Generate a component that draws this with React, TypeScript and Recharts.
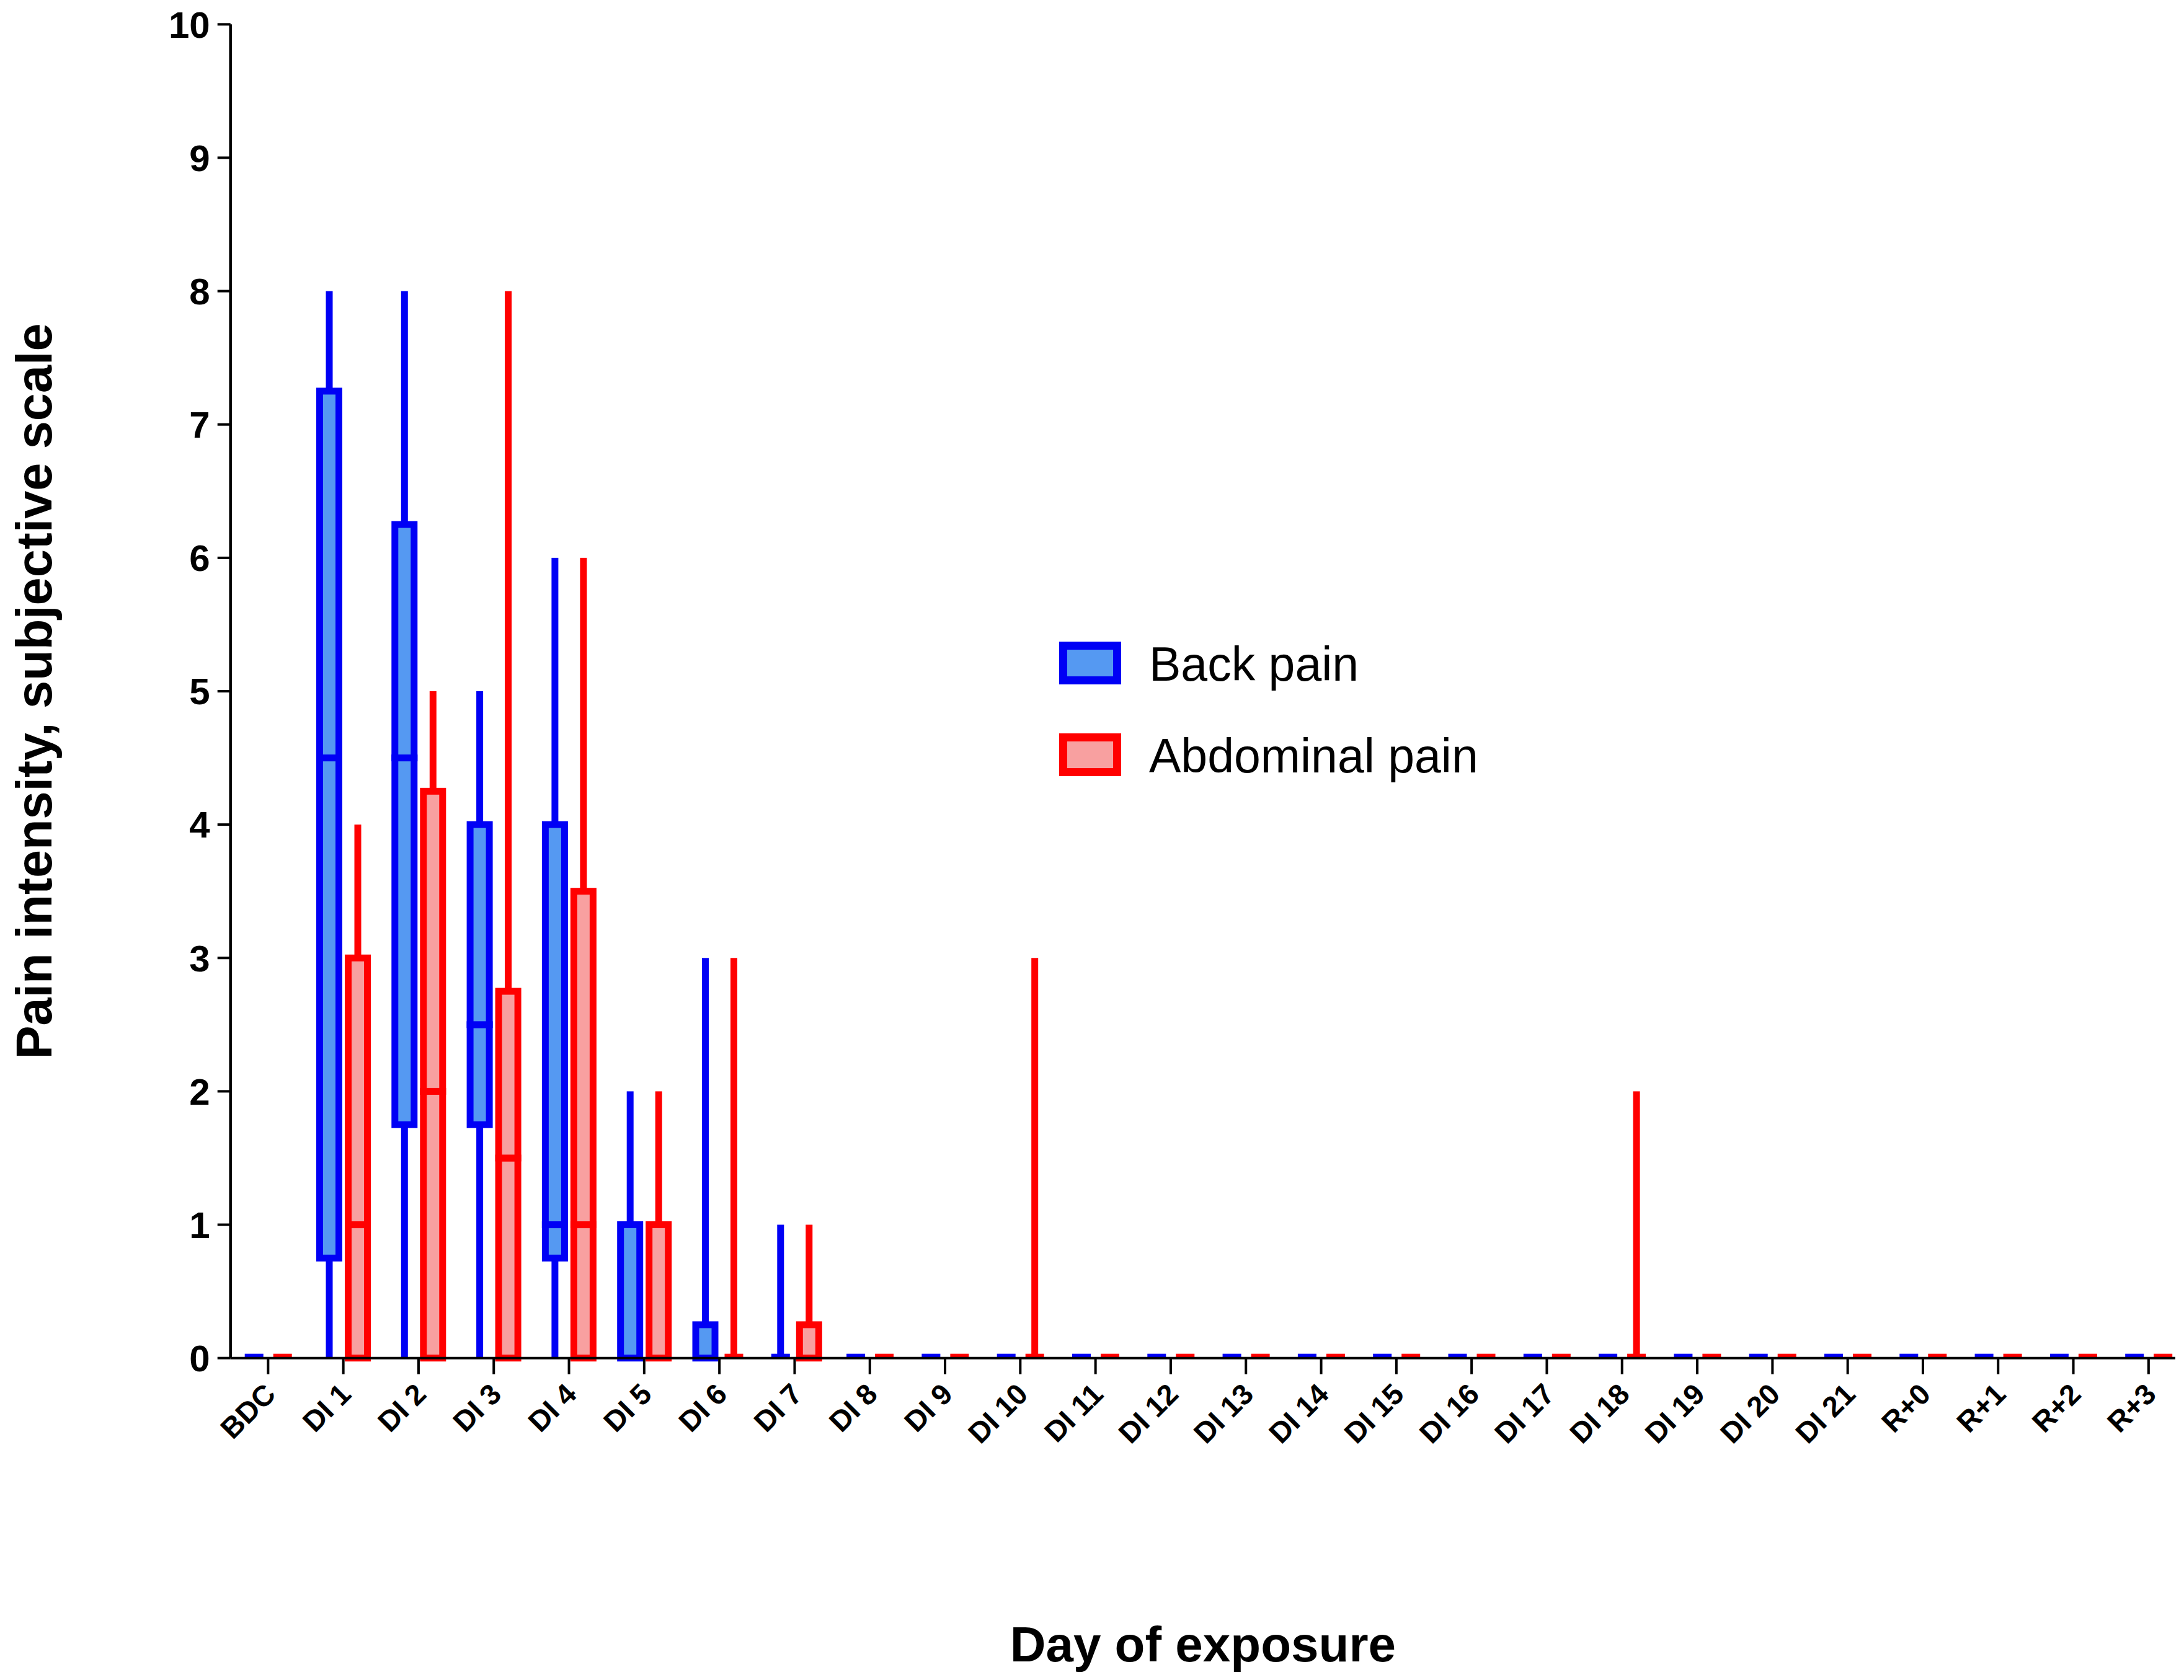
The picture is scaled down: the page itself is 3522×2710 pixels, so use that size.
import React from "react";
import { ComposedChart, Bar, XAxis, YAxis, Legend, Label } from "recharts";

const FONT = '"Liberation Sans", Arial, sans-serif';

const days = [
  "BDC", "DI 1", "DI 2", "DI 3", "DI 4", "DI 5", "DI 6", "DI 7", "DI 8", "DI 9",
  "DI 10", "DI 11", "DI 12", "DI 13", "DI 14", "DI 15", "DI 16", "DI 17", "DI 18",
  "DI 19", "DI 20", "DI 21", "R+0", "R+1", "R+2", "R+3",
];

const yTicks = [0, 1, 2, 3, 4, 5, 6, 7, 8, 9, 10];

const seriesNames = ["Back pain", "Abdominal pain"];

// back pain: min / q1 / median / q3 / max per day
const backMin = [0, 0, 0, 0, 0, 0, 0, 0, 0, 0, 0, 0, 0, 0, 0, 0, 0, 0, 0, 0, 0, 0, 0, 0, 0, 0];
const backQ1 = [0, 0.75, 1.75, 1.75, 0.75, 0, 0, 0, 0, 0, 0, 0, 0, 0, 0, 0, 0, 0, 0, 0, 0, 0, 0, 0, 0, 0];
const backMedian = [0, 4.5, 4.5, 2.5, 1, 0, 0, 0, 0, 0, 0, 0, 0, 0, 0, 0, 0, 0, 0, 0, 0, 0, 0, 0, 0, 0];
const backQ3 = [0, 7.25, 6.25, 4, 4, 1, 0.25, 0, 0, 0, 0, 0, 0, 0, 0, 0, 0, 0, 0, 0, 0, 0, 0, 0, 0, 0];
const backMax = [0, 8, 8, 5, 6, 2, 3, 1, 0, 0, 0, 0, 0, 0, 0, 0, 0, 0, 0, 0, 0, 0, 0, 0, 0, 0];

// abdominal pain
const abdMin = [0, 0, 0, 0, 0, 0, 0, 0, 0, 0, 0, 0, 0, 0, 0, 0, 0, 0, 0, 0, 0, 0, 0, 0, 0, 0];
const abdQ1 = [0, 0, 0, 0, 0, 0, 0, 0, 0, 0, 0, 0, 0, 0, 0, 0, 0, 0, 0, 0, 0, 0, 0, 0, 0, 0];
const abdMedian = [0, 1, 2, 1.5, 1, 0, 0, 0, 0, 0, 0, 0, 0, 0, 0, 0, 0, 0, 0, 0, 0, 0, 0, 0, 0, 0];
const abdQ3 = [0, 3, 4.25, 2.75, 3.5, 1, 0, 0.25, 0, 0, 0, 0, 0, 0, 0, 0, 0, 0, 0, 0, 0, 0, 0, 0, 0, 0];
const abdMax = [0, 4, 5, 8, 6, 2, 3, 1, 0, 0, 3, 0, 0, 0, 0, 0, 0, 0, 2, 0, 0, 0, 0, 0, 0, 0];

const STYLE: Record<string, { stroke: string; fill: string }> = {
  back: { stroke: "#0000f5", fill: "#5599f2" },
  abd: { stroke: "#ff0000", fill: "#f8a0a0" },
};

const stats = {
  back: { min: backMin, q1: backQ1, med: backMedian, q3: backQ3, max: backMax },
  abd: { min: abdMin, q1: abdQ1, med: abdMedian, q3: abdQ3, max: abdMax },
};

const data = days.map((day, i) => {
  const row: any = { day };
  (["back", "abd"] as const).forEach((s) => {
    const st = stats[s];
    row[s + "Q1"] = st.q1[i];
    row[s + "Q3"] = st.q3[i];
    row[s + "Base"] = st.min[i];
    row[s + "WLow"] = st.q1[i] - st.min[i];
    row[s + "BoxLow"] = st.med[i] - st.q1[i];
    row[s + "BoxHigh"] = st.q3[i] - st.med[i];
    row[s + "WHigh"] = st.max[i] - st.q3[i];
  });
  return row;
});

const emptyShape = () => <g />;

const whiskerShape = (s: string) => (props: any) => {
  const { x, y, width, height } = props;
  if (!height) return <g />;
  return <rect x={x + width / 2 - 5.5} y={y} width={11} height={height} fill={STYLE[s].stroke} />;
};

// box is split at the median, so the shared edge draws the median line
const boxShape = (s: string, part: "low" | "high") => (props: any) => {
  const { x, y, width, height, payload } = props;
  const flat = payload[s + "Q3"] === payload[s + "Q1"];
  if (flat) {
    if (part === "low") return <g />;
    return <rect x={x + width / 2 - 15} y={y - 7} width={30} height={8} fill={STYLE[s].stroke} />;
  }
  if (!height) return <g />;
  return (
    <rect
      x={x + 5.5}
      y={y}
      width={width - 11}
      height={height}
      fill={STYLE[s].fill}
      stroke={STYLE[s].stroke}
      strokeWidth={11}
    />
  );
};

const DayTick = (props: any) => {
  const { x, y, payload } = props;
  const tx = x + 15;
  const ty = y + 33;
  return (
    <text
      x={tx}
      y={ty}
      transform={`rotate(-45, ${tx}, ${ty})`}
      textAnchor="end"
      fontSize={47}
      fontWeight="bold"
      fontFamily={FONT}
      fill="#000"
    >
      {payload.value}
    </text>
  );
};

const renderLegend = (props: any) => {
  const items = (props.payload || [])
    .filter((p: any) => seriesNames.includes(p.value))
    .sort((a: any, b: any) => seriesNames.indexOf(a.value) - seriesNames.indexOf(b.value));
  return (
    <svg width={800} height={250}>
      {items.map((p: any, i: number) => {
        const st = STYLE[p.value === "Back pain" ? "back" : "abd"];
        const top = 7 + i * 148;
        return (
          <g key={p.value}>
            <rect x={16.5} y={top + 6.5} width={87} height={56} fill={st.fill} stroke={st.stroke} strokeWidth={13} />
            <text x={155} y={top + 63} fontSize={77} fontFamily={FONT} fill="#000">
              {p.value}
            </text>
          </g>
        );
      })}
    </svg>
  );
};

export default function App() {
  return (
    <ComposedChart
      width={3506}
      height={2694}
      data={data}
      margin={{ top: 31.3, right: 6, bottom: 311.3, left: 263.7 }}
      barSize={42}
      barGap={4}
      style={{ fontFamily: FONT }}
    >
      <XAxis
        dataKey="day"
        height={200}
        interval={0}
        padding={{ left: 0, right: -17.5 }}
        axisLine={{ stroke: "#000", strokeWidth: 4 }}
        tickLine={{ stroke: "#000", strokeWidth: 4 }}
        tickSize={26}
        tick={<DayTick />}
      >
        <Label
          content={(p: any) => {
            const vb = p.viewBox;
            return (
              <text x={vb.x + vb.width / 2} y={2672} textAnchor="middle" fontSize={80} fontWeight="bold" fontFamily={FONT} fill="#000">
                Day of exposure
              </text>
            );
          }}
        />
      </XAxis>
      <YAxis
        width={100}
        domain={[0, 10]}
        ticks={yTicks}
        interval={0}
        axisLine={{ stroke: "#000", strokeWidth: 4.5 }}
        tickLine={{ stroke: "#000", strokeWidth: 4 }}
        tickSize={21}
        tickMargin={12}
        tick={{ fill: "#000", fontSize: 60, fontWeight: "bold", fontFamily: FONT }}
      >
        <Label
          content={(p: any) => {
            const vb = p.viewBox;
            const cy = vb.y + vb.height / 2;
            return (
              <text x={75} y={cy} transform={`rotate(-90, 75, ${cy})`} textAnchor="middle" fontSize={81} fontWeight="bold" fontFamily={FONT} fill="#000">
                Pain intensity, subjective scale
              </text>
            );
          }}
        />
      </YAxis>
      <Legend
        layout="vertical"
        align="center"
        verticalAlign="middle"
        content={renderLegend}
        wrapperStyle={{ position: "absolute", left: 1690, top: 1020, width: 800, height: 250 }}
      />

      <Bar dataKey="backBase" stackId="back" fill="none" legendType="none" shape={emptyShape} isAnimationActive={false} />
      <Bar dataKey="backWLow" stackId="back" fill={STYLE.back.stroke} legendType="none" shape={whiskerShape("back")} isAnimationActive={false} />
      <Bar dataKey="backBoxLow" stackId="back" fill={STYLE.back.fill} legendType="none" shape={boxShape("back", "low")} isAnimationActive={false} />
      <Bar dataKey="backBoxHigh" name="Back pain" stackId="back" fill={STYLE.back.fill} shape={boxShape("back", "high")} isAnimationActive={false} />
      <Bar dataKey="backWHigh" stackId="back" fill={STYLE.back.stroke} legendType="none" shape={whiskerShape("back")} isAnimationActive={false} />

      <Bar dataKey="abdBase" stackId="abd" fill="none" legendType="none" shape={emptyShape} isAnimationActive={false} />
      <Bar dataKey="abdWLow" stackId="abd" fill={STYLE.abd.stroke} legendType="none" shape={whiskerShape("abd")} isAnimationActive={false} />
      <Bar dataKey="abdBoxLow" stackId="abd" fill={STYLE.abd.fill} legendType="none" shape={boxShape("abd", "low")} isAnimationActive={false} />
      <Bar dataKey="abdBoxHigh" name="Abdominal pain" stackId="abd" fill={STYLE.abd.fill} shape={boxShape("abd", "high")} isAnimationActive={false} />
      <Bar dataKey="abdWHigh" stackId="abd" fill={STYLE.abd.stroke} legendType="none" shape={whiskerShape("abd")} isAnimationActive={false} />
    </ComposedChart>
  );
}
